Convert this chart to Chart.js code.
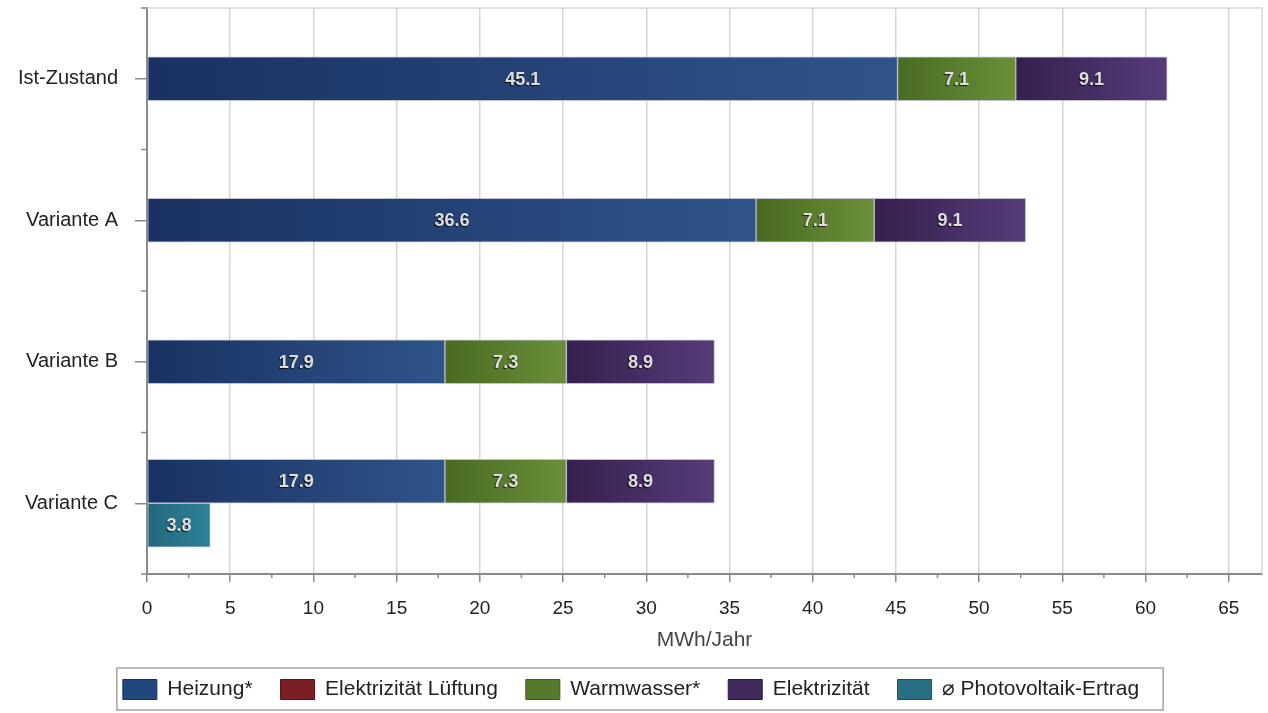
<!DOCTYPE html>
<html>
<head>
<meta charset="utf-8">
<script src="https://cdn.jsdelivr.net/npm/chart.js@4/dist/chart.umd.min.js"></script>
<style>
  html, body { margin: 0; padding: 0; background: #fff; }
  #energieChart { display: block; }
</style>
</head>
<body>
<canvas id="energieChart" width="1268" height="713"></canvas>
<script>
// Werte aus der Grafik (MWh/Jahr)
const categories = ['Ist-Zustand', 'Variante A', 'Variante B', 'Variante C'];
const heizung = [45.1, 36.6, 17.9, 17.9];
const lueftung = [null, null, null, null];
const warmwasser = [7.1, 7.1, 7.3, 7.3];
const elektrizitaet = [9.1, 9.1, 8.9, 8.9];
const photovoltaik = [null, null, null, 3.8];
const xTicks = [0, 5, 10, 15, 20, 25, 30, 35, 40, 45, 50, 55, 60, 65];

const legendColors = ['#22477c', '#7a1f23', '#557a2c', '#3e285c', '#276f83'];
const legendBorders = ['#15305a', '#561215', '#3c5a1a', '#2a1844', '#1a5060'];

Chart.defaults.font.family = "'Liberation Sans', Arial, 'DejaVu Sans', sans-serif";
Chart.defaults.color = '#333';

// Verlauf links dunkel -> rechts hell, je Balkensegment
function barGradient(from, to) {
    return (c) => {
        const chart = c.chart;
        if (!chart.chartArea || c.type !== 'data' || c.raw == null) return to;
        const all = chart.data.datasets;
        const me = all[c.datasetIndex];
        let start = 0;
        for (let i = 0; i < c.datasetIndex; i++) {
            if (all[i].stack === me.stack) start += all[i].data[c.dataIndex] || 0;
        }
        const x = chart.scales.x;
        const x0 = x.getPixelForValue(start);
        const x1 = x.getPixelForValue(start + c.raw);
        if (!isFinite(x0) || !isFinite(x1) || x1 - x0 < 1) return to;
        const g = chart.ctx.createLinearGradient(x0, 0, x1, 0);
        g.addColorStop(0, from);
        g.addColorStop(1, to);
        return g;
    };
}

const valueLabels = {
    id: 'valueLabels',
    afterDatasetsDraw(chart) {
        const ctx = chart.ctx;
        ctx.save();
        ctx.font = "bold 18px 'Liberation Sans', Arial, sans-serif";
        ctx.textAlign = 'center';
        ctx.textBaseline = 'middle';
        chart.data.datasets.forEach((ds, di) => {
            const meta = chart.getDatasetMeta(di);
            meta.data.forEach((bar, i) => {
                const v = ds.data[i];
                if (v == null || !v) return;
                const cx = (bar.x + bar.base) / 2;
                ctx.shadowColor = 'rgba(0,0,0,0.75)';
                ctx.shadowOffsetX = -1;
                ctx.shadowOffsetY = 1;
                ctx.shadowBlur = 1;
                ctx.fillStyle = '#dedede';
                ctx.fillText(v.toFixed(1), cx, bar.y + 1);
            });
        });
        ctx.restore();
    }
};

const frameAndMinorTicks = {
    id: 'frameAndMinorTicks',
    beforeDatasetsDraw(chart) {
        const {ctx, chartArea: a} = chart;
        ctx.save();
        ctx.strokeStyle = '#d6d6d6';
        ctx.lineWidth = 1.5;
        ctx.beginPath();
        ctx.moveTo(a.left, a.top);
        ctx.lineTo(a.right, a.top);
        ctx.lineTo(a.right, a.bottom);
        ctx.stroke();
        ctx.restore();
    },
    afterDraw(chart) {
        const {ctx, chartArea: a, scales} = chart;
        ctx.save();
        ctx.strokeStyle = '#8a8a8a';
        ctx.lineWidth = 1.5;
        ctx.beginPath();
        for (let v = 2.5; v < scales.x.max; v += 5) {
            const px = scales.x.getPixelForValue(v);
            ctx.moveTo(px, a.bottom);
            ctx.lineTo(px, a.bottom + 4);
        }
        for (let i = 0; i <= categories.length; i++) {
            const py = scales.y.getPixelForValue(i - 0.5);
            ctx.moveTo(a.left, py);
            ctx.lineTo(a.left - 6, py);
        }
        ctx.stroke();
        ctx.restore();
    }
};

const legendFrame = {
    id: 'legendFrame',
    afterDraw(chart) {
        const boxes = chart.legend && chart.legend.legendHitBoxes;
        if (!boxes || !boxes.length) return;
        const first = boxes[0], last = boxes[boxes.length - 1];
        const left = first.left - 6;
        const right = last.left + last.width + 24;
        const ctx = chart.ctx;
        ctx.save();
        ctx.strokeStyle = '#a4a4a4';
        ctx.lineWidth = 1.5;
        ctx.strokeRect(left, first.top - 11, right - left, 42);
        ctx.restore();
    }
};

const ctx = document.getElementById('energieChart').getContext('2d');
const energieChart = new Chart(ctx, {
    type: 'bar',
    data: {
        labels: categories,
        datasets: [
            {label: 'Heizung*', data: heizung, stack: 'verbrauch',
             backgroundColor: barGradient('#1a3162', '#2f5489')},
            {label: 'Elektrizität Lüftung', data: lueftung, stack: 'verbrauch',
             backgroundColor: '#7a1f23'},
            {label: 'Warmwasser*', data: warmwasser, stack: 'verbrauch',
             backgroundColor: barGradient('#496a21', '#6b8f3b')},
            {label: 'Elektrizität', data: elektrizitaet, stack: 'verbrauch',
             backgroundColor: barGradient('#35204e', '#563c79')},
            {label: '⌀ Photovoltaik-Ertrag', data: photovoltaik, stack: 'ertrag',
             backgroundColor: barGradient('#22687c', '#2f8198')}
        ]
    },
    options: {
        indexAxis: 'y',
        responsive: false,
        animation: false,
        events: [],
        layout: {padding: {left: 0, right: 6, top: 8, bottom: 3}},
        datasets: {
            bar: {
                barThickness: 44,
                skipNull: true,
                borderWidth: 1,
                borderColor: 'rgba(150,155,175,0.6)',
                borderSkipped: false
            }
        },
        scales: {
            x: {
                stacked: true,
                min: 0,
                max: 67,
                afterBuildTicks: (scale) => { scale.ticks = xTicks.map(v => ({value: v})); },
                afterFit: (scale) => { scale.height = 77; },
                ticks: {
                    padding: 15,
                    color: '#222',
                    font: {size: 19}
                },
                grid: {
                    color: '#d6d6d6',
                    lineWidth: 1.5,
                    tickColor: '#8a8a8a',
                    tickLength: 8
                },
                border: {color: '#8a8a8a', width: 2},
                title: {
                    display: true,
                    text: 'MWh/Jahr',
                    color: '#444',
                    font: {size: 21, lineHeight: 1},
                    padding: {top: 0, bottom: 0}
                }
            },
            y: {
                stacked: true,
                afterFit: (scale) => {
                    scale.width = 147;
                    scale.paddingTop = 0;
                    scale.paddingBottom = 0;
                },
                ticks: {
                    padding: 17,
                    color: '#222',
                    font: {size: 20}
                },
                grid: {
                    offset: false,
                    drawOnChartArea: false,
                    tickColor: '#8a8a8a',
                    tickLength: 12,
                    lineWidth: 1.5
                },
                border: {color: '#8a8a8a', width: 2}
            }
        },
        plugins: {
            tooltip: {enabled: false},
            legend: {
                position: 'bottom',
                labels: {
                    boxWidth: 34,
                    boxHeight: 20,
                    padding: 28,
                    color: '#222',
                    font: {size: 21},
                    generateLabels: (chart) => chart.data.datasets.map((ds, i) => ({
                        text: ds.label,
                        fillStyle: legendColors[i],
                        strokeStyle: legendBorders[i],
                        lineWidth: 1,
                        hidden: false,
                        datasetIndex: i,
                        fontColor: '#222'
                    }))
                }
            }
        }
    },
    plugins: [frameAndMinorTicks, valueLabels, legendFrame]
});
</script>
</body>
</html>
